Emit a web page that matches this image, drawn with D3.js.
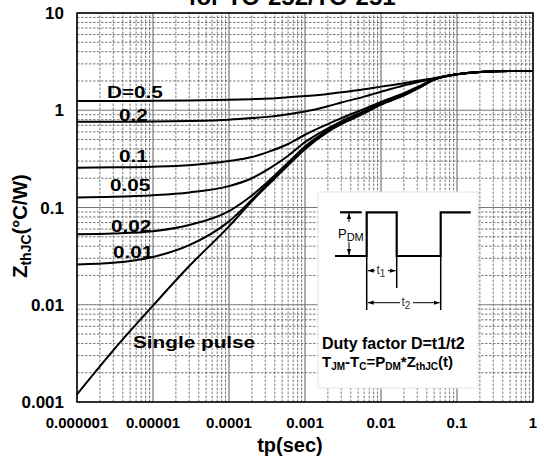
<!DOCTYPE html>
<html>
<head>
<meta charset="utf-8">
<script src="https://cdn.jsdelivr.net/npm/d3@7"></script>
<style>
  body { margin: 0; background: #fff; }
  svg { display: block; font-family: Arial, "Liberation Sans", sans-serif; }
</style>
</head>
<body>
<svg id="chart" width="537" height="475"></svg>
<script>
// pulse time points (sec), shared by all the curves
const tp = [1e-6, 3e-6, 1e-5, 3e-5, 1e-4, 2e-4, 3.5e-4, 6e-4, 1e-3, 2e-3, 3e-3, 6e-3,
            1e-2, 2e-2, 3e-2, 5e-2, 0.1, 0.2, 0.5, 1];
// Zth(j-c) per duty factor
const z_d05 = [1.245, 1.247, 1.25, 1.26, 1.28, 1.30, 1.32, 1.36, 1.40, 1.47, 1.53, 1.64, 1.75, 1.90, 2.01, 2.14, 2.34, 2.47, 2.53, 2.53];
const z_d02 = [0.76, 0.762, 0.765, 0.775, 0.80, 0.83, 0.86, 0.91, 0.97, 1.10, 1.20, 1.38, 1.55, 1.80, 1.94, 2.12, 2.34, 2.47, 2.53, 2.53];
const z_d01 = [0.257, 0.259, 0.263, 0.272, 0.30, 0.33, 0.38, 0.45, 0.56, 0.72, 0.83, 1.03, 1.22, 1.50, 1.73, 2.09, 2.34, 2.47, 2.53, 2.53];
const z_d005 = [0.127, 0.129, 0.134, 0.143, 0.166, 0.20, 0.255, 0.34, 0.47, 0.65, 0.77, 0.98, 1.18, 1.46, 1.70, 2.08, 2.34, 2.47, 2.53, 2.53];
const z_d002 = [0.053, 0.054, 0.057, 0.066, 0.092, 0.133, 0.194, 0.29, 0.425, 0.62, 0.74, 0.95, 1.16, 1.44, 1.68, 2.07, 2.34, 2.47, 2.53, 2.53];
const z_d001 = [0.026, 0.027, 0.031, 0.041, 0.072, 0.12, 0.185, 0.278, 0.41, 0.61, 0.73, 0.94, 1.15, 1.43, 1.67, 2.06, 2.34, 2.47, 2.53, 2.53];
const z_single = [0.0012, 0.0034, 0.0098, 0.025, 0.064, 0.116, 0.18, 0.272, 0.398, 0.60, 0.72, 0.93, 1.14, 1.42, 1.66, 2.05, 2.34, 2.47, 2.53, 2.53];

const series = [z_d05, z_d02, z_d01, z_d005, z_d002, z_d001, z_single];
// curve labels, placed in data coordinates
const labels = [
  {text: 'D=0.5', t: 2.48e-6, z: 1.34},
  {text: '0.2', t: 3.57e-6, z: 0.775},
  {text: '0.1', t: 3.57e-6, z: 0.294},
  {text: '0.05', t: 2.72e-6, z: 0.148},
  {text: '0.02', t: 2.8e-6, z: 0.056},
  {text: '0.01', t: 2.98e-6, z: 0.0303},
  {text: 'Single pulse', t: 5.46e-6, z: 0.0036}
];
const xTicks = [1e-6, 1e-5, 1e-4, 1e-3, 1e-2, 0.1, 1];
const xTickLabels = ['0.000001', '0.00001', '0.0001', '0.001', '0.01', '0.1', '1'];
const yTicks = [0.001, 0.01, 0.1, 1, 10];
const yTickLabels = ['0.001', '0.01', '0.1', '1', '10'];

const svg = d3.select('#chart');
const x = d3.scaleLog().domain([1e-6, 1]).range([77, 533]);
const y = d3.scaleLog().domain([0.001, 10]).range([402, 13]);

// title, its top is cut by the page edge like in the source
svg.append('text')
  .attr('x', 292).attr('y', 5)
  .attr('text-anchor', 'middle')
  .style('font-size', '24px').style('font-weight', 'bold')
  .text('for  TO-252/TO-251');

// log grid
const grid = svg.append('g');
let minorX = [], minorY = [];
for (let d = -6; d < 0; d++) for (let k = 2; k <= 9; k++) minorX.push(k * Math.pow(10, d));
for (let d = -3; d < 1; d++) for (let k = 2; k <= 9; k++) minorY.push(k * Math.pow(10, d));
grid.selectAll('.mx').data(minorX).enter().append('line')
  .attr('x1', d => x(d)).attr('x2', d => x(d))
  .attr('y1', y.range()[0]).attr('y2', y.range()[1])
  .attr('stroke', '#555').attr('stroke-width', 0.8).attr('stroke-dasharray', '2.5,1.5');
grid.selectAll('.my').data(minorY).enter().append('line')
  .attr('y1', d => y(d)).attr('y2', d => y(d))
  .attr('x1', x.range()[0]).attr('x2', x.range()[1])
  .attr('stroke', '#555').attr('stroke-width', 0.8).attr('stroke-dasharray', '2.5,1.5');
grid.selectAll('.Mx').data(xTicks).enter().append('line')
  .attr('x1', d => x(d)).attr('x2', d => x(d))
  .attr('y1', y.range()[0]).attr('y2', y.range()[1])
  .attr('stroke', '#777').attr('stroke-width', 1.2);
grid.selectAll('.My').data(yTicks).enter().append('line')
  .attr('y1', d => y(d)).attr('y2', d => y(d))
  .attr('x1', x.range()[0]).attr('x2', x.range()[1])
  .attr('stroke', '#777').attr('stroke-width', 1.2);

// frame
svg.append('rect')
  .attr('x', x.range()[0]).attr('y', y.range()[1])
  .attr('width', x.range()[1] - x.range()[0]).attr('height', y.range()[0] - y.range()[1])
  .attr('fill', 'none').attr('stroke', '#000').attr('stroke-width', 1.5);

// tick labels
svg.selectAll('.xt').data(xTicks).enter().append('text')
  .attr('x', d => x(d)).attr('y', 428)
  .attr('text-anchor', 'middle')
  .style('font-size', '15px').style('font-weight', 'bold')
  .text((d, i) => xTickLabels[i]);
svg.selectAll('.yt').data(yTicks).enter().append('text')
  .attr('x', 64).attr('y', d => y(d) + 6)
  .attr('text-anchor', 'end')
  .style('font-size', '17px').style('font-weight', 'bold')
  .text((d, i) => yTickLabels[i]);

// axis titles
svg.append('text')
  .attr('x', 290).attr('y', 452)
  .attr('text-anchor', 'middle')
  .style('font-size', '20px').style('font-weight', 'bold')
  .text('tp(sec)');
let yt = svg.append('text')
  .attr('transform', 'translate(27,226) rotate(-90)')
  .attr('text-anchor', 'middle')
  .style('font-size', '20px').style('font-weight', 'bold');
yt.append('tspan').text('Z');
yt.append('tspan').attr('dy', 4).style('font-size', '14px').text('thJC');
yt.append('tspan').attr('dy', -4).text('(°C/W)');

// curves
const line = d3.line()
  .x((d, i) => x(tp[i]))
  .y(d => y(d))
  .curve(d3.curveMonotoneX);
svg.append('g').selectAll('path').data(series).enter().append('path')
  .attr('d', line)
  .attr('fill', 'none').attr('stroke', '#000').attr('stroke-width', 2);

// labels look horizontally stretched in the source
svg.append('g').selectAll('text').data(labels).enter().append('text')
  .attr('transform', d => 'translate(' + x(d.t) + ',' + y(d.z) + ') scale(1.22,1)')
  .style('font-size', '17px').style('font-weight', 'bold')
  .text(d => d.text);

// inset with the pulse sketch
const ins = svg.append('g');
ins.append('rect').attr('x', 318).attr('y', 192).attr('width', 160).attr('height', 196)
  .attr('fill', '#fff').attr('stroke', '#e4e4e4');
ins.append('path')
  .attr('d', 'M335,256H366.7V212.3H396.7V256H440.7V212.3H470.7')
  .attr('fill', 'none').attr('stroke', '#000').attr('stroke-width', 2.2);
ins.append('path').attr('d', 'M340,212.3H361.7')
  .attr('stroke', '#000').attr('stroke-width', 2.2);
// extension lines
ins.append('path')
  .attr('d', 'M366.7,256V310M396.7,256V288M440.7,256V310')
  .attr('stroke', '#000').attr('stroke-width', 1.5);
svg.append('defs').append('marker')
  .attr('id', 'ah').attr('viewBox', '0 0 10 10').attr('refX', 10).attr('refY', 5)
  .attr('markerWidth', 6).attr('markerHeight', 6).attr('orient', 'auto-start-reverse')
  .append('path').attr('d', 'M0,1.5L10,5L0,8.5z').attr('fill', '#000');
// P_DM arrow
ins.append('path').attr('d', 'M349,222V213').attr('stroke', '#000').attr('stroke-width', 1)
  .attr('marker-end', 'url(#ah)');
ins.append('path').attr('d', 'M349,242V255').attr('stroke', '#000').attr('stroke-width', 1)
  .attr('marker-end', 'url(#ah)');
let pdm = ins.append('text').attr('x', 338).attr('y', 238).style('font-size', '13px');
pdm.append('tspan').text('P');
pdm.append('tspan').attr('dy', 3).style('font-size', '11px').text('DM');
// t1, t2 dimensions
ins.append('path').attr('d', 'M375,270.7H367.7').attr('stroke', '#000').attr('stroke-width', 1).attr('marker-end', 'url(#ah)');
ins.append('path').attr('d', 'M388,270.7H395.7').attr('stroke', '#000').attr('stroke-width', 1).attr('marker-end', 'url(#ah)');
let t1 = ins.append('text').attr('x', 376.5).attr('y', 274).style('font-size', '12px').style('fill', '#333');
t1.append('tspan').text('t');
t1.append('tspan').attr('dy', 3).style('font-size', '10px').text('1');
ins.append('path').attr('d', 'M400,302.7H367.7').attr('stroke', '#000').attr('stroke-width', 1).attr('marker-end', 'url(#ah)');
ins.append('path').attr('d', 'M413,302.7H439.7').attr('stroke', '#000').attr('stroke-width', 1).attr('marker-end', 'url(#ah)');
let t2 = ins.append('text').attr('x', 401.5).attr('y', 306).style('font-size', '12px').style('fill', '#333');
t2.append('tspan').text('t');
t2.append('tspan').attr('dy', 3).style('font-size', '10px').text('2');

ins.append('text').attr('x', 322).attr('y', 349)
  .style('font-size', '16px').style('font-weight', 'bold')
  .text('Duty factor D=t1/t2');
let eq = ins.append('text').attr('x', 322).attr('y', 367)
  .style('font-size', '15px').style('font-weight', 'bold');
eq.append('tspan').text('T');
eq.append('tspan').attr('dy', 3).style('font-size', '10px').text('JM');
eq.append('tspan').attr('dy', -3).text('-T');
eq.append('tspan').attr('dy', 3).style('font-size', '10px').text('C');
eq.append('tspan').attr('dy', -3).text('=P');
eq.append('tspan').attr('dy', 3).style('font-size', '10px').text('DM');
eq.append('tspan').attr('dy', -3).text('*Z');
eq.append('tspan').attr('dy', 3).style('font-size', '10px').text('thJC');
eq.append('tspan').attr('dy', -3).text('(t)');
</script>
</body>
</html>
